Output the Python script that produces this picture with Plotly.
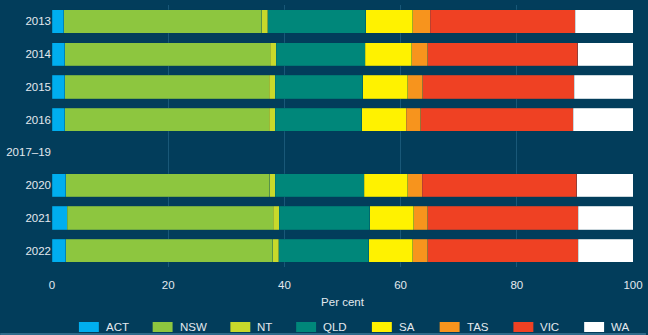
import plotly.graph_objects as go

# Share of total by state/territory, per cent
years = ["2013", "2014", "2015", "2016", "2017–19", "2020", "2021", "2022"]
states = ["ACT", "NSW", "NT", "QLD", "SA", "TAS", "VIC", "WA"]

act = [2.0, 2.2, 2.2, 2.2, None, 2.4, 2.6, 2.4]
nsw = [34.1, 35.4, 35.2, 35.2, None, 35.1, 35.5, 35.6]
nt = [1.0, 1.0, 1.0, 1.0, None, 0.9, 1.0, 1.0]
qld = [16.9, 15.3, 15.1, 14.9, None, 15.3, 15.6, 15.5]
sa = [8.1, 8.0, 7.7, 7.7, None, 7.5, 7.6, 7.6]
tas = [3.0, 2.8, 2.6, 2.5, None, 2.5, 2.4, 2.6]
vic = [25.0, 25.8, 26.1, 26.2, None, 26.6, 25.9, 25.9]
wa = [9.9, 9.5, 10.1, 10.3, None, 9.7, 9.4, 9.4]

series = [act, nsw, nt, qld, sa, tas, vic, wa]
colors = ["#00aeef", "#8dc63f", "#c8d92b", "#00877a", "#fff200", "#f7941d", "#ef4123", "#ffffff"]

bg = "#023d5b"
grid = "#195878"
text = "#e3e9ee"
font_family = "Liberation Sans, Arial, sans-serif"

W, H = 648, 335
M = dict(l=52, r=13, t=5, b=68)
plot_w = W - M["l"] - M["r"]
plot_h = H - M["t"] - M["b"]


def px_x(px):
    return (px - M["l"]) / plot_w


def px_y(py):
    return (H - M["b"] - py) / plot_h


fig = go.Figure()
for name, vals, col in zip(states, series, colors):
    fig.add_trace(go.Bar(
        y=years, x=vals, name=name, orientation="h",
        marker=dict(color=col, line=dict(width=0.6, color="rgba(2,61,91,0.35)")),
        showlegend=False,
    ))

# Legend row: wide colour keys with labels beside them
key_left = [79, 153, 231, 297, 373, 441, 515, 586]
key_w, key_top, key_bot = 20, 322, 332
shapes = []
annotations = []
for name, col, x0 in zip(states, colors, key_left):
    shapes.append(dict(
        type="rect", xref="paper", yref="paper",
        x0=px_x(x0), x1=px_x(x0 + key_w), y0=px_y(key_bot), y1=px_y(key_top),
        fillcolor=col, line=dict(width=0),
    ))
    annotations.append(dict(
        text=name, xref="paper", yref="paper",
        x=px_x(x0 + key_w + 5), y=px_y((key_top + key_bot) / 2),
        xanchor="left", yanchor="middle", showarrow=False,
        font=dict(size=11.5, color=text, family=font_family),
    ))

# thin rule along the bottom edge of the panel
shapes.append(dict(
    type="line", xref="paper", yref="paper",
    x0=px_x(0), x1=px_x(W), y0=px_y(334), y1=px_y(334),
    line=dict(color="#2f6a8a", width=2),
))

fig.update_layout(
    barmode="stack",
    bargap=0.29,
    width=W, height=H,
    margin=M,
    paper_bgcolor=bg, plot_bgcolor=bg,
    font=dict(family=font_family, size=11.5, color=text),
    showlegend=False,
    shapes=shapes,
    annotations=annotations,
    xaxis=dict(
        range=[0, 100], tickvals=[0, 20, 40, 60, 80, 100],
        showgrid=True, gridcolor=grid, gridwidth=1, zeroline=False,
        title=dict(text="Per cent", font=dict(size=11.5, color=text), standoff=8),
        ticks="", showline=False, ticklabelstandoff=9,
    ),
    yaxis=dict(
        categoryorder="array", categoryarray=years, autorange="reversed",
        showgrid=False, ticks="", showline=False,
    ),
)

fig.write_html("out.html")
